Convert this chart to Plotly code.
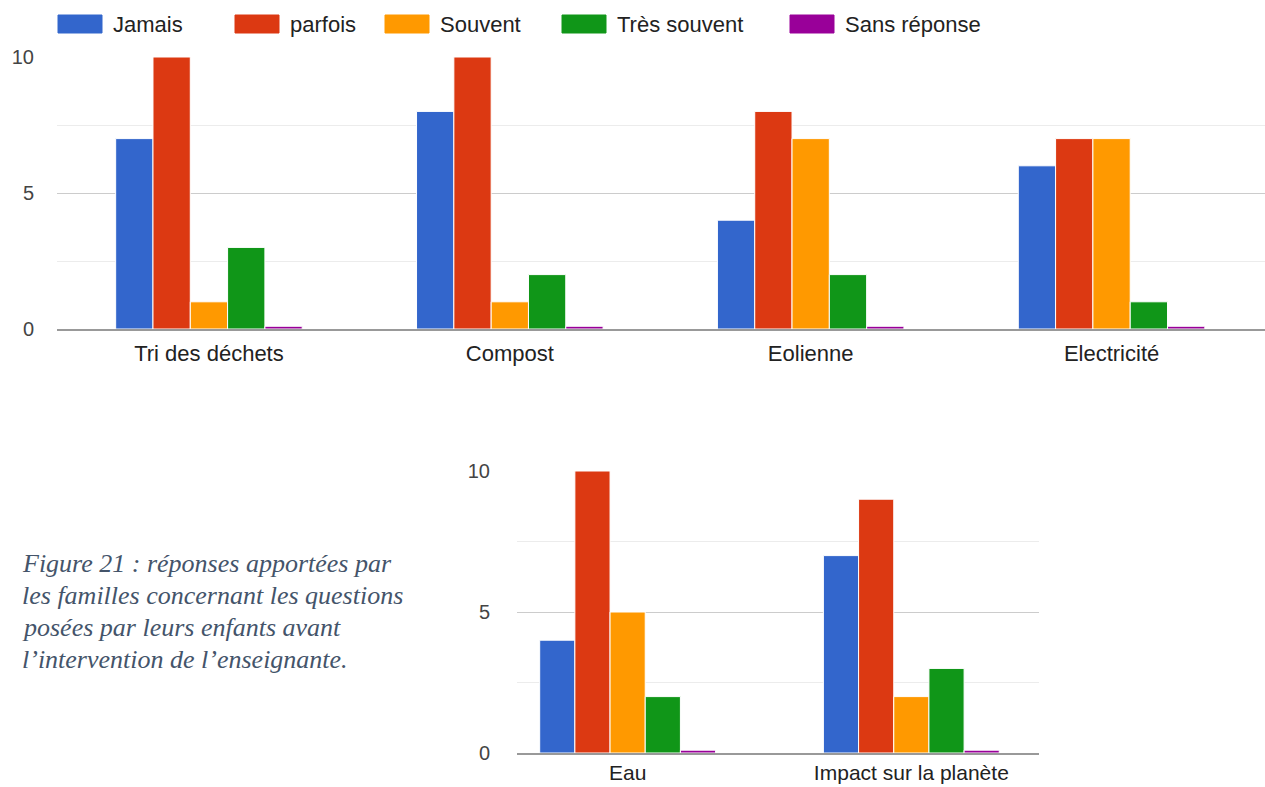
import plotly.graph_objects as go

series = ["Jamais", "parfois", "Souvent", "Très souvent", "Sans réponse"]
colors = ["#3366CC", "#DC3912", "#FF9900", "#109618", "#990099"]

top_categories = ["Tri des déchets", "Compost", "Eolienne", "Electricité"]
top_values = {
    "Jamais": [7, 8, 4, 6],
    "parfois": [10, 10, 8, 7],
    "Souvent": [1, 1, 7, 7],
    "Très souvent": [3, 2, 2, 1],
    "Sans réponse": [0.1, 0.1, 0.1, 0.1],
}

bottom_categories = ["Eau", "Impact sur la planète"]
bottom_values = {
    "Jamais": [4, 7],
    "parfois": [10, 9],
    "Souvent": [5, 2],
    "Très souvent": [2, 3],
    "Sans réponse": [0.1, 0.1],
}

y_ticks = [0, 5, 10]
caption_lines = [
    "Figure 21 : réponses apportées par",
    "les familles concernant les questions",
    "posées par leurs enfants avant",
    "l\u2019intervention de l\u2019enseignante.",
]

W, H = 1265, 787

fig = go.Figure()
for name, col in zip(series, colors):
    fig.add_trace(go.Bar(x=top_categories, y=top_values[name], name=name,
                         marker=dict(color=col, line=dict(color="white", width=1)),
                         xaxis="x", yaxis="y", showlegend=False))
    fig.add_trace(go.Bar(x=bottom_categories, y=bottom_values[name], name=name,
                         marker=dict(color=col, line=dict(color="white", width=1)),
                         xaxis="x2", yaxis="y2", showlegend=False))

def px_x(p):
    return p / W

def px_y(p):
    return 1 - p / H

axis_font = dict(family="Liberation Sans, Arial", size=22, color="#222222")
axis_font_small = dict(family="Liberation Sans, Arial", size=21, color="#222222")
tick_font = dict(family="Liberation Sans, Arial", size=20, color="#444444")

common_y = dict(range=[0, 10], tickvals=y_ticks, showgrid=True, gridcolor="#cccccc",
                gridwidth=1, zeroline=False, showline=False, tickfont=tick_font,
                ticks="", fixedrange=True, automargin=False,
                minor=dict(dtick=2.5, showgrid=True, gridcolor="#ececec", gridwidth=1))
common_x = dict(showgrid=False, zeroline=False, showline=True, linecolor="#999999",
                linewidth=2, ticks="", type="category",
                automargin=False, fixedrange=True)

fig.update_layout(
    template="none",
    width=W, height=H, autosize=False,
    margin=dict(l=0, r=0, t=0, b=0, pad=0, autoexpand=False),
    paper_bgcolor="white", plot_bgcolor="white",
    barmode="group", bargap=0.38, bargroupgap=0.0,
    hovermode=False,
    xaxis=dict(domain=[px_x(57), 1.0], range=[-0.505, 3.51], anchor="y",
               ticklabelstandoff=4, tickfont=axis_font, **common_x),
    yaxis=dict(domain=[px_y(329), px_y(57)], anchor="x", ticklabelstandoff=22, **common_y),
    xaxis2=dict(domain=[px_x(517), px_x(1039)], range=[-0.39, 1.45], anchor="y2",
                ticklabelstandoff=0, tickfont=axis_font_small, **common_x),
    yaxis2=dict(domain=[px_y(753), px_y(471)], anchor="x2", ticklabelstandoff=26, **common_y),
)

# custom legend
legend_x = [58, 235, 385, 562, 790]
for name, col, lx in zip(series, colors, legend_x):
    fig.add_shape(type="rect", xref="paper", yref="paper",
                  x0=px_x(lx), x1=px_x(lx + 44), y0=px_y(33), y1=px_y(15),
                  fillcolor=col, line=dict(color=col, width=1))
    fig.add_annotation(text=name, xref="paper", yref="paper",
                       x=px_x(lx + 53), y=px_y(24), xanchor="left", yanchor="middle",
                       showarrow=False, font=dict(family="Liberation Sans, Arial", size=22, color="#222222"))

# caption
for i, line in enumerate(caption_lines):
    fig.add_annotation(text=line, xref="paper", yref="paper",
                       x=px_x(20), y=px_y(563 + 32 * i), xanchor="left", yanchor="middle",
                       showarrow=False,
                       font=dict(family="Liberation Serif, Times New Roman", size=26,
                                 color="#44546A", style="italic"))

fig.write_html("out.html", config={"displayModeBar": False, "staticPlot": True})
with open("out.html", "r", encoding="utf-8") as f:
    html = f.read()
html = html.replace("<head>", "<head><style>html,body{margin:0;padding:0;overflow:hidden;}</style>", 1)
with open("out.html", "w", encoding="utf-8") as f:
    f.write(html)
